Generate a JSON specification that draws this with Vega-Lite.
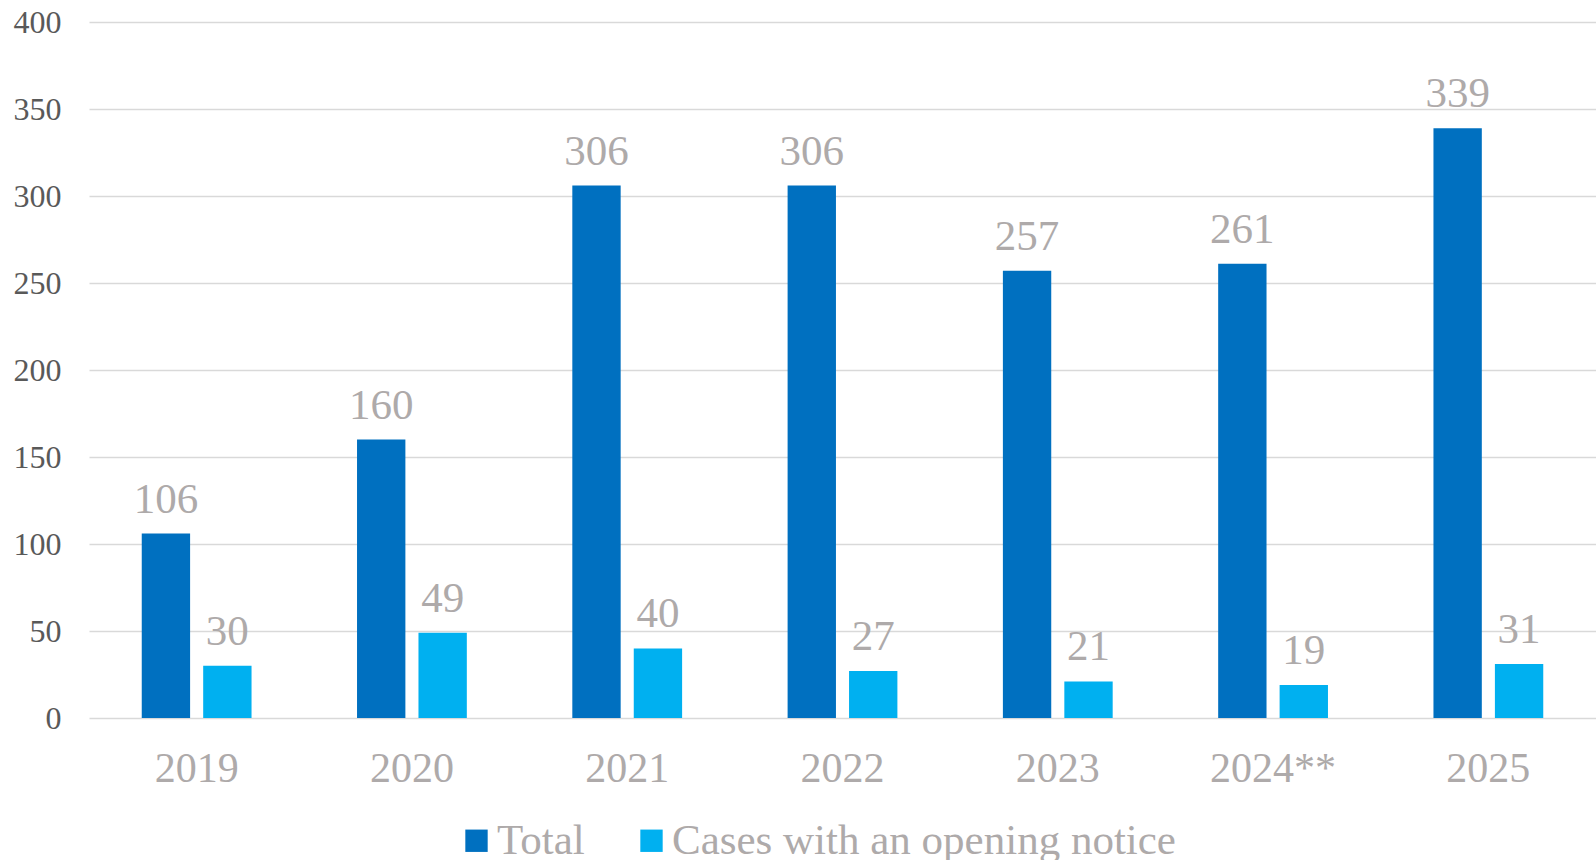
{
  "$schema": "https://vega.github.io/schema/vega-lite/v6.json",
  "width": 1507,
  "height": 696,
  "autosize": {"type": "none"},
  "padding": {"left": 89, "top": 22, "right": 0, "bottom": 142},
  "config": {"view": {"stroke": null}, "font": "Liberation Serif"},
  "data": {
    "values": [
      {"year": "2019", "series": "Total", "value": 106},
      {"year": "2019", "series": "Cases with an opening notice", "value": 30},
      {"year": "2020", "series": "Total", "value": 160},
      {"year": "2020", "series": "Cases with an opening notice", "value": 49},
      {"year": "2021", "series": "Total", "value": 306},
      {"year": "2021", "series": "Cases with an opening notice", "value": 40},
      {"year": "2022", "series": "Total", "value": 306},
      {"year": "2022", "series": "Cases with an opening notice", "value": 27},
      {"year": "2023", "series": "Total", "value": 257},
      {"year": "2023", "series": "Cases with an opening notice", "value": 21},
      {"year": "2024**", "series": "Total", "value": 261},
      {"year": "2024**", "series": "Cases with an opening notice", "value": 19},
      {"year": "2025", "series": "Total", "value": 339},
      {"year": "2025", "series": "Cases with an opening notice", "value": 31}
    ]
  },
  "encoding": {
    "x": {
      "field": "year", "type": "nominal", "sort": null,
      "scale": {"paddingInner": 0.49, "paddingOuter": 0.245},
      "axis": {"title": null, "labelAngle": 0, "domain": false, "ticks": false, "grid": false,
        "labelFontSize": 42, "labelColor": "#AEAAAA", "labelFont": "Liberation Serif", "labelPadding": 30}
    },
    "xOffset": {
      "field": "series", "type": "nominal", "sort": ["Total", "Cases with an opening notice"],
      "scale": {"paddingInner": 0.213, "paddingOuter": 0}
    },
    "y": {
      "field": "value", "type": "quantitative",
      "scale": {"domain": [0, 400]},
      "axis": {"title": null, "values": [0, 50, 100, 150, 200, 250, 300, 350, 400],
        "domain": false, "ticks": false, "gridColor": "#D9D9D9", "gridWidth": 1.3,
        "labelFontSize": 32, "labelColor": "#595959", "labelFont": "Liberation Serif", "labelPadding": 28}
    }
  },
  "layer": [
    {
      "mark": {"type": "bar"},
      "encoding": {
        "color": {
          "field": "series", "type": "nominal",
          "scale": {"domain": ["Total", "Cases with an opening notice"], "range": ["#0070C0", "#00B0F0"]},
          "legend": {"orient": "none", "legendX": 366, "legendY": 797, "direction": "horizontal", "title": null,
            "symbolType": "square", "symbolSize": 500, "symbolStrokeWidth": 0,
            "labelFontSize": 43, "labelColor": "#AEAAAA", "labelFont": "Liberation Serif",
            "labelOffset": -1, "columnPadding": 45, "labelLimit": 1000}
        }
      }
    },
    {
      "mark": {"type": "text", "baseline": "alphabetic", "align": "center", "dy": -21,
        "fontSize": 43, "color": "#AEAAAA", "font": "Liberation Serif"},
      "encoding": {"text": {"field": "value", "type": "quantitative"}}
    }
  ]
}
